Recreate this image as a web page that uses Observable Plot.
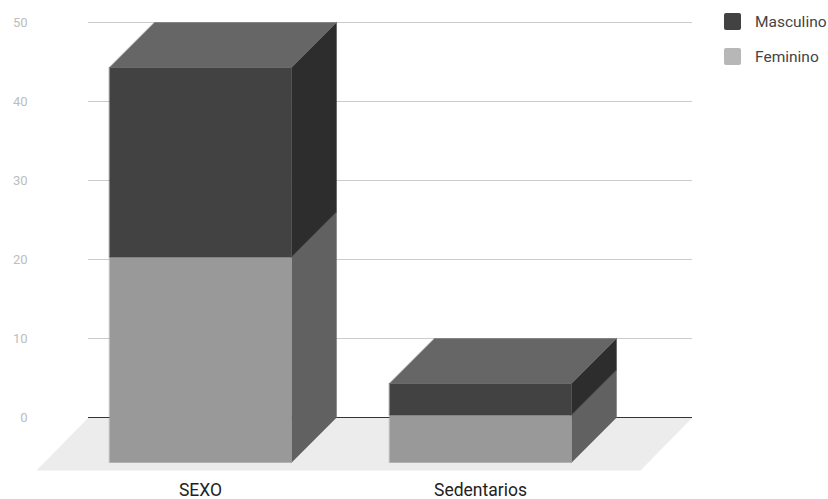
<!DOCTYPE html>
<html><head><meta charset="utf-8">
<script src="https://cdn.jsdelivr.net/npm/d3@7"></script>
<script src="https://cdn.jsdelivr.net/npm/@observablehq/plot@0.6"></script>
<style>
html,body{margin:0;padding:0;background:#fff;}
#wrap{position:relative;width:828px;height:499px;font-family:Roboto,sans-serif;}
#legend{position:absolute;left:724px;top:13px;}
.item{display:flex;align-items:center;height:17px;margin-bottom:18px;font-size:15.5px;color:#444;white-space:nowrap;}
.sw{width:17px;height:17px;border-radius:2px;margin-right:14px;flex:none;}
</style></head><body><div id="wrap"><div id="chart"></div><div id="legend"></div></div>
<script>
// ---- data ----
const categories = ["SEXO", "Sedentarios"];
const feminino = [26, 6];
const masculino = [24, 4];
const legendNames = ["Masculino", "Feminino"];
const yTicks = [0, 10, 20, 30, 40, 50];

// ---- styles / layout ----
const legendColors = {Masculino: "#424242", Feminino: "#b7b7b7"};
const faceColors = {
  Feminino: {front: "#999999", side: "#616161", top: "#bdbdbd"},
  Masculino: {front: "#424242", side: "#2d2d2d", top: "#666666"}
};
const PX_PER_X = 280;              // px per category step
const PX_PER_Y = 7.9;              // px per value unit
const hw = 91 / PX_PER_X;          // half bar width (x units)
const dX = 45 / PX_PER_X;          // bar depth in x units
const dY = 45 / PX_PER_Y;          // bar depth in y units
const fdX = 52 / PX_PER_X;         // floor depth
const fdY = 53 / PX_PER_Y;
const xL = (88 - 245) / PX_PER_X, xR = (692 - 245) / PX_PER_X; // back-wall extent

// ---- build polygons from data ----
const polys = [];
let pid = 0;
function addPoly(pts, color) {
  const id = pid++;
  pts.forEach(([x, y]) => polys.push({id, x, y, color}));
}
// floor
addPoly([[xL, 0], [xR, 0], [xR - fdX, -fdY], [xL - fdX, -fdY]], "#ececec");
const floorPolys = polys.splice(0);

const series = [["Feminino", feminino], ["Masculino", masculino]];
categories.forEach((c, i) => {
  let base = 0;
  const segs = series.map(([name, vals]) => {
    const s = {name, lo: base, hi: base + vals[i]};
    base += vals[i];
    return s;
  });
  segs.forEach(s => {
    const col = faceColors[s.name];
    // right side face
    addPoly([[i + hw - dX, s.lo - dY], [i + hw, s.lo], [i + hw, s.hi], [i + hw - dX, s.hi - dY]], col.side);
    // front face
    addPoly([[i - hw - dX, s.lo - dY], [i + hw - dX, s.lo - dY], [i + hw - dX, s.hi - dY], [i - hw - dX, s.hi - dY]], col.front);
  });
  const top = segs[segs.length - 1];
  addPoly([[i - hw - dX, top.hi - dY], [i + hw - dX, top.hi - dY], [i + hw, top.hi], [i - hw, top.hi]], faceColors[top.name].top);
});

const chart = Plot.plot({
  width: 828, height: 499,
  marginTop: 0, marginRight: 0, marginBottom: 0, marginLeft: 0,
  style: {fontFamily: "Roboto, sans-serif", background: "#fff"},
  x: {type: "linear", domain: [0, 1], range: [245, 525], axis: null},
  y: {type: "linear", domain: [0, 50], range: [417, 22], axis: null},
  color: {type: "identity"},
  marks: [
    Plot.line(floorPolys, {x: "x", y: "y", z: "id", fill: "color", stroke: "none", curve: "linear-closed"}),
    Plot.ruleY(yTicks.filter(d => d > 0), {x1: xL, x2: xR, stroke: "#cccccc", strokeWidth: 1}),
    Plot.ruleY([0], {x1: xL, x2: xR, stroke: "#333333", strokeWidth: 1.2}),
    Plot.text(yTicks, {y: d => d, text: d => String(d), frameAnchor: "left", dx: 27, textAnchor: "end", fill: "#bdbdbd", fontSize: 13}),
    Plot.line(polys, {x: "x", y: "y", z: "id", fill: "color", stroke: "color", strokeWidth: 0.4, curve: "linear-closed"}),
    Plot.text(categories, {x: (d, i) => i - dX, text: d => d, frameAnchor: "bottom", dy: -9, lineAnchor: "middle", textAnchor: "middle", fill: "#222", fontSize: 17.5})
  ]
});
document.getElementById("chart").appendChild(chart);

const lg = document.getElementById("legend");
legendNames.forEach(n => {
  const it = document.createElement("div");
  it.className = "item";
  it.innerHTML = `<div class="sw" style="background:${legendColors[n]}"></div><span>${n}</span>`;
  lg.appendChild(it);
});
</script>
</body></html>
